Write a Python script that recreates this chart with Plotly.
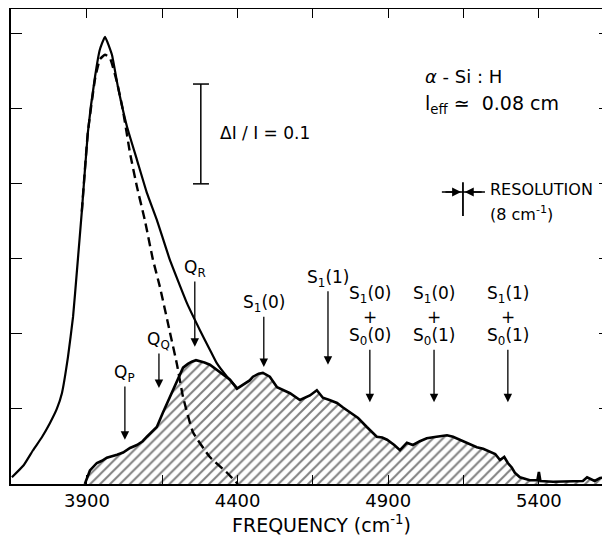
import plotly.graph_objects as go

# ---- data (frequency in cm^-1, intensity in tick units) ----
total_freq = [3651, 3690, 3721, 3750, 3777, 3800, 3817, 3837, 3854, 3867, 3883, 3903, 3927, 3943, 3960,
              3983, 4003, 4033, 4066, 4099, 4132, 4175, 4232, 4275, 4308, 4331, 4365, 4401]
total_int = [0.09, 0.25, 0.45, 0.62, 0.81, 1.0, 1.21, 1.69, 2.23, 2.85, 3.63, 4.68, 5.43, 5.79, 5.96,
             5.72, 5.29, 4.76, 4.32, 3.88, 3.52, 2.99, 2.41, 2.05, 1.79, 1.61, 1.43, 1.27]

qfit_freq = [3883, 3903, 3927, 3943, 3960, 3976, 4000, 4019, 4043, 4066, 4092, 4119, 4142,
             4175, 4199, 4219, 4252, 4308, 4365, 4401]
qfit_int = [3.63, 4.68, 5.40, 5.66, 5.72, 5.68, 5.35, 4.99, 4.41, 3.96, 3.52, 2.99, 2.63,
            2.03, 1.59, 1.16, 0.69, 0.36, 0.15, 0.0]

diff_freq = [3893, 3910, 3933, 3950, 3966, 3985, 4000, 4020, 4043, 4066, 4085, 4099, 4115, 4132, 4152,
             4175, 4199, 4219, 4235, 4248, 4262, 4275, 4290, 4308, 4341, 4375, 4398, 4418, 4440,
             4451, 4470, 4484, 4507, 4531, 4555, 4574, 4607, 4640, 4663, 4683, 4705, 4730, 4750,
             4773, 4800, 4829, 4862, 4880, 4896, 4920, 4939, 4962, 4982, 5005, 5028, 5060, 5095,
             5115, 5138, 5165, 5194, 5215, 5238, 5255, 5271, 5285, 5297, 5310, 5320, 5337, 5370,
             5395, 5400, 5405, 5447, 5500, 5546, 5560, 5569, 5585, 5603, 5620, 5636]
diff_int = [0.0, 0.18, 0.28, 0.31, 0.35, 0.37, 0.39, 0.42, 0.48, 0.52, 0.57, 0.63, 0.69, 0.76, 0.95,
            1.16, 1.39, 1.55, 1.60, 1.63, 1.65, 1.64, 1.62, 1.59, 1.49, 1.39, 1.27, 1.32, 1.38,
            1.43, 1.47, 1.48, 1.43, 1.29, 1.25, 1.21, 1.12, 1.18, 1.25, 1.15, 1.12, 1.08, 1.02,
            0.95, 0.88, 0.76, 0.63, 0.62, 0.59, 0.52, 0.45, 0.55, 0.52, 0.57, 0.61, 0.63, 0.65,
            0.63, 0.59, 0.55, 0.49, 0.47, 0.43, 0.40, 0.32, 0.36, 0.28, 0.22, 0.15, 0.09, 0.05,
            0.05, 0.16, 0.04, 0.03, 0.03, 0.04, 0.09, 0.07, 0.04, 0.08, 0.09, 0.03]

tick_vals = [3650, 3900, 4150, 4400, 4650, 4900, 5150, 5400, 5650]
tick_text = ["", "3900", "", "4400", "", "4900", "", "5400", ""]
y_ticks = [0, 1, 2, 3, 4, 5, 6]

# arrow markers: (label lines, x position, tip y, tail y)
line_labels = [
    (["Q<sub>P</sub>"], 4026, 0.59, 1.32),
    (["Q<sub>Q</sub>"], 4139, 1.28, 1.76),
    (["Q<sub>R</sub>"], 4258, 1.83, 2.72),
    (["S<sub>1</sub>(0)"], 4487, 1.56, 2.25),
    (["S<sub>1</sub>(1)"], 4700, 1.59, 2.59),
    (["S<sub>1</sub>(0)", "+", "S<sub>0</sub>(0)"], 4839, 1.09, 1.81),
    (["S<sub>1</sub>(0)", "+", "S<sub>0</sub>(1)"], 5052, 1.09, 1.81),
    (["S<sub>1</sub>(1)", "+", "S<sub>0</sub>(1)"], 5297, 1.09, 1.81),
]

FONT = "DejaVu Sans"
x_range = [3648, 5636]
y_range = [0, 6.33]

fig = go.Figure()

# hatched difference region
fig.add_trace(go.Scatter(
    x=diff_freq, y=diff_int, mode="lines", fill="tozeroy",
    line=dict(color="black", width=2.6),
    fillcolor="white",
    fillpattern=dict(shape="/", fgcolor="black", bgcolor="white", size=7, solidity=0.28),
    hoverinfo="skip", showlegend=False))

# dashed Q-branch fit
fig.add_trace(go.Scatter(
    x=qfit_freq, y=qfit_int, mode="lines",
    line=dict(color="black", width=2.4, dash="9px,5px", shape="spline", smoothing=0.4),
    hoverinfo="skip", showlegend=False))

# total measured spectrum (left part; right part coincides with hatched outline)
fig.add_trace(go.Scatter(
    x=total_freq, y=total_int, mode="lines",
    line=dict(color="black", width=2.2, shape="spline", smoothing=0.35),
    hoverinfo="skip", showlegend=False))

ann = []
for lines, xf, tip, tail in line_labels:
    ann.append(dict(x=xf, y=tip, ax=xf, ay=tail, xref="x", yref="y", axref="x", ayref="y",
                    text="", showarrow=True, arrowhead=2, arrowsize=1.3, arrowwidth=1.3,
                    arrowcolor="black"))
    n = len(lines)
    for i, t in enumerate(lines):
        ann.append(dict(x=xf, y=tail, xref="x", yref="y", text=t, showarrow=False,
                        xanchor="center", yanchor="bottom", yshift=-2 + (n - 1 - i) * 21,
                        font=dict(family=FONT, size=17, color="black")))

# intensity scale bar
shapes = [
    dict(type="line", x0=4278, x1=4278, y0=4.0, y1=5.33, xref="x", yref="y",
         line=dict(color="black", width=1.5)),
    dict(type="line", x0=4252, x1=4305, y0=5.33, y1=5.33, xref="x", yref="y",
         line=dict(color="black", width=1.5)),
    dict(type="line", x0=4252, x1=4305, y0=4.0, y1=4.0, xref="x", yref="y",
         line=dict(color="black", width=1.5)),
    # resolution cross
    dict(type="line", x0=5148, x1=5148, y0=3.57, y1=4.02, xref="x", yref="y",
         line=dict(color="black", width=1.8)),
    dict(type="line", x0=5078, x1=5221, y0=3.89, y1=3.89, xref="x", yref="y",
         line=dict(color="black", width=1.5)),
]
ann += [
    dict(x=5142, y=3.89, ax=5085, ay=3.89, xref="x", yref="y", axref="x", ayref="y", text="",
         showarrow=True, arrowhead=2, arrowsize=1.2, arrowwidth=1.5, arrowcolor="black"),
    dict(x=5154, y=3.89, ax=5215, ay=3.89, xref="x", yref="y", axref="x", ayref="y", text="",
         showarrow=True, arrowhead=2, arrowsize=1.2, arrowwidth=1.5, arrowcolor="black"),
    dict(x=5231, y=3.92, xref="x", yref="y", text="RESOLUTION", showarrow=False,
         xanchor="left", yanchor="middle", font=dict(family=FONT, size=16, color="black")),
    dict(x=5231, y=3.60, xref="x", yref="y", text="(8 cm<sup>-1</sup>)", showarrow=False,
         xanchor="left", yanchor="middle", font=dict(family=FONT, size=16, color="black")),
    dict(x=4335, y=4.68, xref="x", yref="y", text="ΔI / I = 0.1", showarrow=False,
         xanchor="left", yanchor="middle", font=dict(family=FONT, size=17, color="black")),
    dict(x=5015, y=5.43, xref="x", yref="y", text="<i>α</i> - Si : H", showarrow=False,
         xanchor="left", yanchor="middle", font=dict(family=FONT, size=18, color="black")),
    dict(x=5015, y=5.06, xref="x", yref="y", text="l<sub>eff</sub> ≃  0.08 cm", showarrow=False,
         xanchor="left", yanchor="middle", font=dict(family=FONT, size=19, color="black")),
    dict(x=0.5, y=0, xref="paper", yref="paper", text="FREQUENCY (cm<sup>-1</sup>)",
         showarrow=False, xanchor="center", yanchor="middle", xshift=11, yshift=-40,
         font=dict(family=FONT, size=19, color="black")),
]

# page body adds an 8px offset, so the figure is sized to end at the window edge
fig.update_layout(
    width=602, height=528,
    margin=dict(l=3, r=0, t=1, b=52),
    paper_bgcolor="white", plot_bgcolor="white",
    font=dict(family=FONT, color="black"),
    showlegend=False,
    shapes=shapes, annotations=ann,
    xaxis=dict(range=x_range, tickmode="array", tickvals=tick_vals, ticktext=tick_text,
               ticks="inside", ticklen=9, tickwidth=1.3, tickcolor="black",
               showline=True, linecolor="black", linewidth=1.6, mirror="ticks",
               showgrid=False, zeroline=False, tickfont=dict(family=FONT, size=18),
               automargin=False),
    yaxis=dict(range=y_range, tickmode="array", tickvals=y_ticks, showticklabels=False,
               ticks="inside", ticklen=11, tickwidth=1.3, tickcolor="black",
               showline=True, linecolor="black", linewidth=1.6, mirror="ticks",
               showgrid=False, zeroline=False, automargin=False),
)

fig.write_html("out.html")
